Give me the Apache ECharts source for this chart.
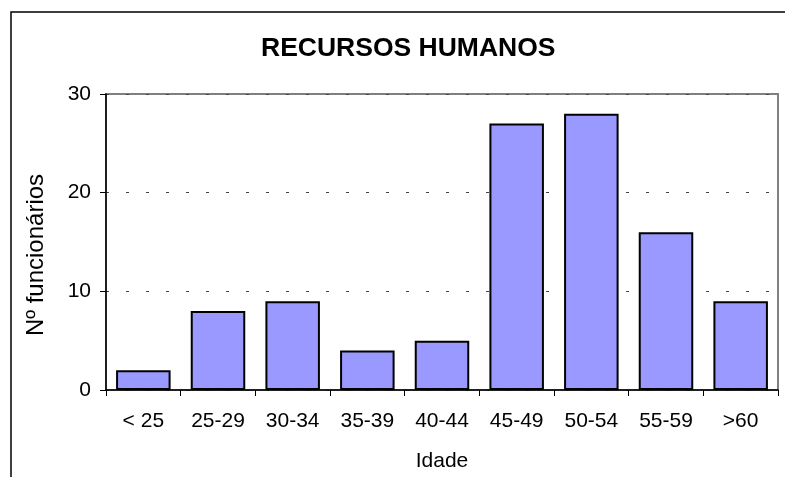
<!DOCTYPE html>
<html lang="pt">
<head>
    <meta charset="UTF-8">
    <title>Recursos Humanos</title>
    <script src="https://cdn.jsdelivr.net/npm/echarts@6/dist/echarts.min.js"></script>
    <style>
        html, body { margin: 0; padding: 0; background: #fff; }
        #chart { width: 785px; height: 477px; }
    </style>
</head>
<body>
    <div id="chart"></div>
    <script>
        var faixas = ['< 25', '25-29', '30-34', '35-39', '40-44', '45-49', '50-54', '55-59', '>60'];
        var funcionarios = [2, 8, 9, 4, 5, 27, 28, 16, 9];
        var yTicks = [0, 10, 20, 30];

        var chart = echarts.init(document.getElementById('chart'));
        var fonte = 'Liberation Sans, Arial, sans-serif';

        var option = {
            animation: false,
            title: {
                text: 'RECURSOS HUMANOS',
                left: 261,
                top: 35,
                padding: 0,
                textStyle: { fontFamily: fonte, fontSize: 26.5, fontWeight: 'bold', color: '#000' }
            },
            graphic: [{
                type: 'rect',
                shape: { x: 11, y: 12, width: 900, height: 600 },
                style: { fill: 'none', stroke: '#000', lineWidth: 1.5 },
                silent: true
            }],
            grid: {
                left: 106, right: 7, top: 94, bottom: 87,
                show: true,
                borderColor: '#808080',
                borderWidth: 2,
                backgroundColor: '#fff'
            },
            xAxis: {
                type: 'category',
                data: faixas,
                name: 'Idade',
                nameLocation: 'middle',
                nameGap: 61,
                nameTextStyle: { fontFamily: fonte, fontSize: 21, color: '#000' },
                axisLine: { lineStyle: { color: '#000', width: 1.5 } },
                axisTick: { show: true, length: 6, lineStyle: { color: '#000' } },
                axisLabel: { fontFamily: fonte, fontSize: 21, color: '#000', margin: 21 },
                splitLine: { show: false }
            },
            yAxis: {
                type: 'value',
                min: yTicks[0],
                max: yTicks[yTicks.length - 1],
                interval: 10,
                name: 'Nº funcionários',
                nameLocation: 'middle',
                nameRotate: 90,
                nameGap: 58,
                nameTextStyle: { fontFamily: fonte, fontSize: 24, color: '#000', padding: [0, 26, 0, 0] },
                axisLine: { show: true, lineStyle: { color: '#000', width: 1.5 } },
                axisTick: { show: true, inside: false, length: 6, lineStyle: { color: '#000' } },
                axisLabel: { fontFamily: fonte, fontSize: 21, color: '#000', margin: 15 },
                splitLine: { show: true, lineStyle: { color: '#444', type: [3, 17], width: 1 } }
            },
            series: [{
                type: 'bar',
                data: funcionarios,
                barCategoryGap: '27%',
                itemStyle: { color: '#9999FF', borderColor: '#000', borderWidth: 2 }
            }]
        };

        chart.setOption(option);
    </script>
</body>
</html>
